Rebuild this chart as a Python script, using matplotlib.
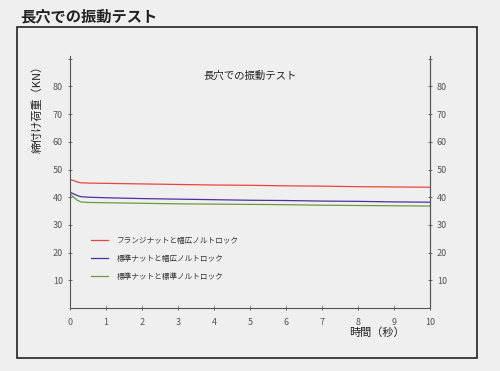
import matplotlib
matplotlib.use('Agg')
import matplotlib.pyplot as plt
from matplotlib.patches import Rectangle

plt.rcParams['font.family'] = ['Noto Sans CJK JP', 'DejaVu Sans']

# time (s) and clamp load (kN)
t = [0, 0.1, 0.2, 0.3, 0.5, 1, 2, 3, 4, 5, 6, 7, 8, 9, 10]
red = [46.3, 46.0, 45.5, 45.2, 45.1, 45.0, 44.8, 44.6, 44.4, 44.3, 44.1, 44.0, 43.8, 43.7, 43.6]
purple = [41.8, 41.2, 40.6, 40.2, 40.0, 39.8, 39.5, 39.3, 39.1, 38.9, 38.8, 38.6, 38.5, 38.3, 38.2]
green = [41.2, 40.0, 38.9, 38.3, 38.1, 38.0, 37.8, 37.6, 37.5, 37.4, 37.3, 37.1, 37.0, 36.9, 36.8]
labels = ['フランジナットと幅広ノルトロック', '標準ナットと幅広ノルトロック', '標準ナットと標準ノルトロック']
yticks = [10, 20, 30, 40, 50, 60, 70, 80]
xticks = list(range(11))

bg = '#efefef'
fig = plt.figure(figsize=(5, 3.71), dpi=100, facecolor=bg)
fig.add_artist(Rectangle((0.034, 0.035), 0.92, 0.892, transform=fig.transFigure,
                         fill=False, edgecolor='#222222', linewidth=1.2))
fig.text(0.04, 0.955, '長穴での振動テスト', fontsize=11, fontweight='bold',
         color='#222222', va='center', ha='left')

ax = fig.add_axes([0.14, 0.17, 0.72, 0.679])
ax.set_facecolor(bg)
ax.plot(t, red, color='#e8453c', linewidth=0.9, label=labels[0])
ax.plot(t, purple, color='#4a30a0', linewidth=0.9, label=labels[1])
ax.plot(t, green, color='#6e9a3c', linewidth=0.9, label=labels[2])

ax.set_xlim(0, 10)
ax.set_ylim(0, 91)
ax.spines['top'].set_visible(False)
for s in ['left', 'right', 'bottom']:
    ax.spines[s].set_color('#555555')
    ax.spines[s].set_linewidth(0.8)
ax.set_xticks(xticks)
ax.set_yticks(yticks + [90])
ax.set_yticklabels([str(v) for v in yticks] + [''])
ax.tick_params(labelsize=6.5, colors='#555555', length=3, width=0.6, direction='inout')
ax.tick_params(axis='x', pad=6)

ax2 = ax.twinx()
ax2.set_ylim(0, 91)
ax2.set_yticks(yticks + [90])
ax2.set_yticklabels([str(v) for v in yticks] + [''])
ax2.tick_params(labelsize=6.5, colors='#555555', length=3, width=0.6, direction='inout')
for s in ['top', 'left', 'bottom']:
    ax2.spines[s].set_visible(False)
ax2.spines['right'].set_color('#555555')

ax.text(0.5, 0.92, '長穴での振動テスト', transform=ax.transAxes, fontsize=7.5,
        ha='center', va='center', color='#222222')
ax.set_ylabel('締付け荷重（KN）', fontsize=8, color='#222222', labelpad=2)
ax.yaxis.set_label_coords(-0.075, 0.8)
ax.text(0.93, -0.1, '時間（秒）', transform=ax.transAxes, fontsize=8,
        ha='right', va='center', color='#222222')

ax.legend(loc='upper left', bbox_to_anchor=(0.04, 0.31), frameon=False,
          fontsize=5.5, handlelength=2.2, labelspacing=1.3, handletextpad=1.2,
          labelcolor='#333333')

plt.savefig('out.png', dpi=100, facecolor=bg)
